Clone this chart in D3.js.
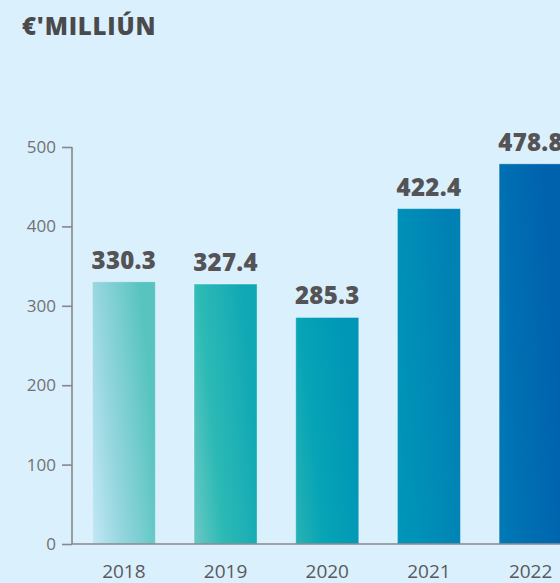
<!DOCTYPE html>
<html>
<head>
<meta charset="utf-8">
<script src="https://cdn.jsdelivr.net/npm/d3@7"></script>
<style>
  html, body { margin: 0; padding: 0; background: #dbf0fd; overflow: hidden; }
  svg { display: block; }
</style>
</head>
<body>
<div id="chart"></div>
<script>
var years = ["2018", "2019", "2020", "2021", "2022"];
var values = [330.3, 327.4, 285.3, 422.4, 478.8];
var yTicks = [0, 100, 200, 300, 400, 500];
var title = "€'MILLIÚN";

// bottom-left, middle, top-right colour of each bar
var barColors = [
  ["#c2e8f5", "#95d6de", "#57c4bf"],
  ["#6cc8c5", "#2dbab5", "#11a8b5"],
  ["#28b2b4", "#06a4b6", "#0096b6"],
  ["#0097b8", "#008fb7", "#0081b4"],
  ["#007ab6", "#006fb2", "#0061ad"]
];

var width = 560, height = 583;
var margin = { top: 147, left: 72, bottom: 39 };
var plotBottom = height - margin.bottom;

var svg = d3.select("#chart")
  .append("svg")
  .attr("width", width)
  .attr("height", height);

var defs = svg.append("defs");
barColors.forEach(function (c, i) {
  var g = defs.append("linearGradient")
    .attr("id", "barGrad" + i)
    .attr("x1", 0).attr("y1", 1)
    .attr("x2", 1).attr("y2", 0.6);
  g.append("stop").attr("offset", "0").attr("stop-color", c[0]);
  g.append("stop").attr("offset", "0.4").attr("stop-color", c[1]);
  g.append("stop").attr("offset", "1").attr("stop-color", c[2]);
});

var x = d3.scaleBand()
  .domain(years)
  .range([margin.left, margin.left + 510.5])
  .paddingInner(0.38)
  .paddingOuter(0.2);

var y = d3.scaleLinear()
  .domain([0, 500])
  .range([plotBottom, margin.top]);

svg.append("text")
  .attr("x", 22)
  .attr("y", 35)
  .style("font-family", "'Open Sans', sans-serif")
  .style("font-weight", 800)
  .style("font-size", "24px")
  .style("letter-spacing", "0.8px")
  .style("fill", "#4a4a4c")
  .text(title);

// bars
svg.selectAll(".bar")
  .data(values)
  .enter()
  .append("rect")
  .attr("class", "bar")
  .attr("x", function (d, i) { return x(years[i]); })
  .attr("width", x.bandwidth())
  .attr("y", function (d) { return y(d); })
  .attr("height", function (d) { return plotBottom - y(d); })
  .style("fill", function (d, i) { return "url(#barGrad" + i + ")"; })
  .style("stroke", "rgba(255,255,255,0.35)")
  .style("stroke-width", 1);

// value labels
svg.selectAll(".label")
  .data(values)
  .enter()
  .append("text")
  .attr("class", "label")
  .attr("x", function (d, i) { return x(years[i]) + x.bandwidth() / 2; })
  .attr("y", function (d) { return y(d) - 13; })
  .attr("text-anchor", "middle")
  .style("font-family", "'Open Sans', sans-serif")
  .style("font-weight", 800)
  .style("font-size", "24px")
  .style("letter-spacing", "0.3px")
  .style("fill", "#545456")
  .text(function (d) { return d.toFixed(1); });

// y axis
var yAxis = svg.append("g")
  .attr("transform", "translate(" + margin.left + ",0)")
  .call(d3.axisLeft(y).tickValues(yTicks).tickSize(10).tickSizeOuter(0).tickPadding(6));
yAxis.selectAll("path, line").style("stroke", "#86878a").style("stroke-width", 1.6);
yAxis.selectAll("text")
  .style("font-family", "'Open Sans', sans-serif")
  .style("font-size", "17px")
  .style("fill", "#707174");
yAxis.select(".domain").attr("d", "M0," + margin.top + "V" + plotBottom);

// x axis line
svg.append("line")
  .attr("x1", margin.left).attr("x2", width)
  .attr("y1", plotBottom).attr("y2", plotBottom)
  .style("stroke", "#86878a")
  .style("stroke-width", 1.6);

// year labels
svg.selectAll(".year")
  .data(years)
  .enter()
  .append("text")
  .attr("class", "year")
  .attr("x", function (d) { return x(d) + x.bandwidth() / 2; })
  .attr("y", 578)
  .attr("text-anchor", "middle")
  .style("font-family", "'Open Sans', sans-serif")
  .style("font-size", "19px")
  .style("fill", "#58595c")
  .text(function (d) { return d; });
</script>
</body>
</html>
